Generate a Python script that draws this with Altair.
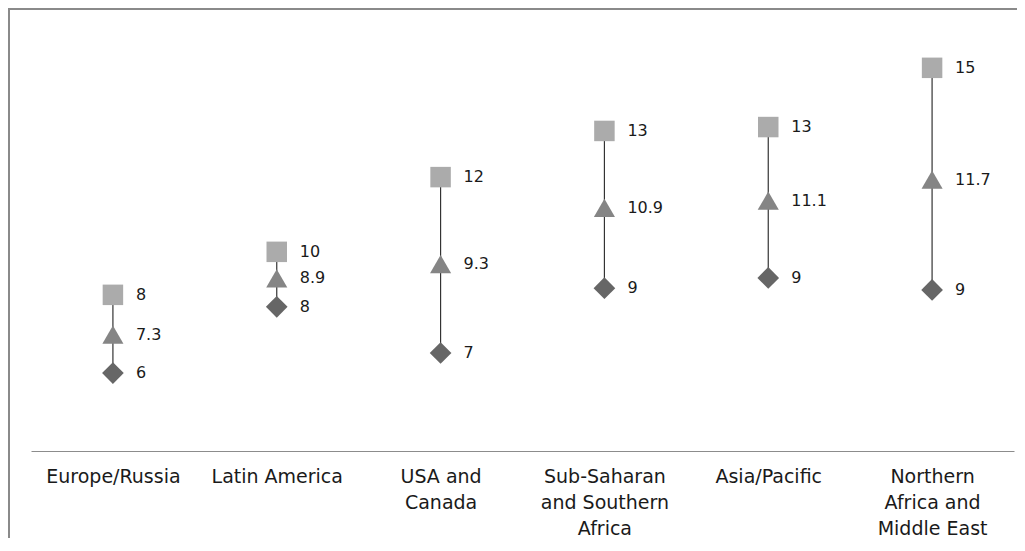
import altair as alt
import pandas as pd

# Regions (axis labels use "\n" for the wrapped lines)
categories = [
    "Europe/Russia",
    "Latin America",
    "USA and\nCanada",
    "Sub-Saharan\nand Southern\nAfrica",
    "Asia/Pacific",
    "Northern\nAfrica and\nMiddle East",
]
# Values (low/high are shown rounded to whole numbers)
low_values = [6.21, 8.09, 6.78, 8.62, 8.91, 8.57]
mean_values = [7.3, 8.9, 9.3, 10.9, 11.1, 11.7]
high_values = [8.43, 9.65, 11.77, 13.08, 13.19, 14.87]

series_names = ["High", "Mean", "Low"]
series_shapes = ["square", "triangle-up", "diamond"]
series_colors = ["#ababab", "#858585", "#666666"]
series_sizes = [420, 470, 430]

wide = pd.DataFrame({"category": categories, "low": low_values, "high": high_values})

rows = []
for cat, lo, me, hi in zip(categories, low_values, mean_values, high_values):
    rows.append({"category": cat, "series": "High", "value": hi, "label": f"{hi:.0f}"})
    rows.append({"category": cat, "series": "Mean", "value": me, "label": f"{me:.1f}"})
    rows.append({"category": cat, "series": "Low", "value": lo, "label": f"{lo:.0f}"})
long = pd.DataFrame(rows)

FONT = "DejaVu Sans"

x_enc = alt.X(
    "category:N",
    sort=categories,
    scale=alt.Scale(type="point", padding=0.5),
    axis=alt.Axis(
        title=None,
        labelAngle=0,
        ticks=False,
        grid=False,
        domainColor="#8c8c8c",
        domainWidth=1,
        labelFont=FONT,
        labelFontSize=19,
        labelColor="#1a1a1a",
        labelPadding=16,
        labelLineHeight=26,
        labelLimit=0,
        labelExpr="split(datum.label, '\\n')",
    ),
)
y_scale = alt.Scale(domain=[4, 16], nice=False, zero=False)

rules = alt.Chart(wide).mark_rule(color="#333333", strokeWidth=1.2).encode(
    x=x_enc,
    y=alt.Y("low:Q", scale=y_scale, axis=None),
    y2="high:Q",
)

points = alt.Chart(long).mark_point(filled=True, opacity=1, strokeWidth=0).encode(
    x=alt.X("category:N", sort=categories, scale=alt.Scale(type="point", padding=0.5)),
    y=alt.Y("value:Q", scale=y_scale, axis=None),
    shape=alt.Shape("series:N", scale=alt.Scale(domain=series_names, range=series_shapes), legend=None),
    color=alt.Color("series:N", scale=alt.Scale(domain=series_names, range=series_colors), legend=None),
    size=alt.Size("series:N", scale=alt.Scale(domain=series_names, range=series_sizes), legend=None),
)

labels = alt.Chart(long).mark_text(
    align="left", baseline="middle", dx=23, font=FONT, fontSize=16, color="#1a1a1a"
).encode(
    x=alt.X("category:N", sort=categories, scale=alt.Scale(type="point", padding=0.5)),
    y=alt.Y("value:Q", scale=y_scale, axis=None),
    text="label:N",
)

# Chart frame (left and top border of the original chart box)
frame_left = alt.Chart(wide).mark_rule(color="#8a8a8a", strokeWidth=2).encode(
    x=alt.value(-22), y=alt.value(-20), y2=alt.value(700)
)
frame_top = alt.Chart(wide).mark_rule(color="#8a8a8a", strokeWidth=2).encode(
    x=alt.value(-22), x2=alt.value(1200), y=alt.value(-19)
)

chart = (
    alt.layer(frame_left, frame_top, rules, points, labels)
    .properties(
        width=983,
        height=423,
        padding={"left": 23, "top": 20, "right": 3, "bottom": 87},
        autosize=alt.AutoSizeParams(type="none"),
        background="white",
    )
    .configure_view(stroke=None)
)

chart.save("out.html", embed_options={"renderer": "svg", "actions": False})
